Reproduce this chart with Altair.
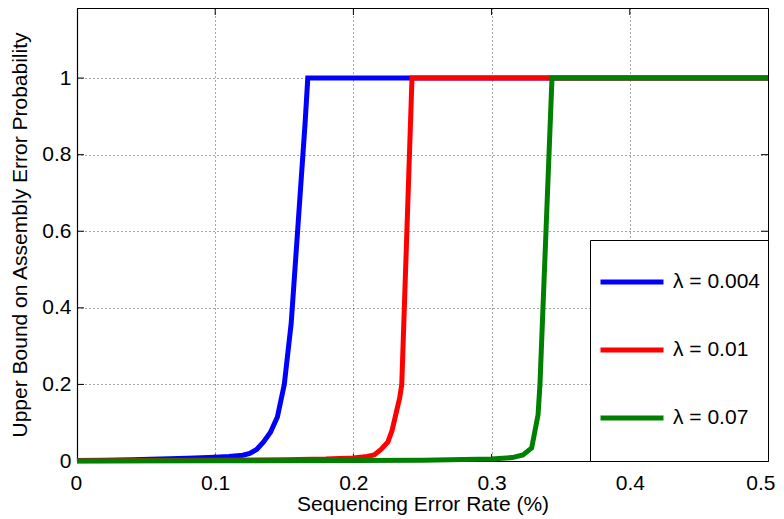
import altair as alt
import pandas as pd

FONT = "Liberation Sans"

series_names = ["λ = 0.004", "λ = 0.01", "λ = 0.07"]
series_colors = ["#0000FF", "#FF0000", "#008000"]

blue_x = [0, 0.02, 0.04, 0.06, 0.08, 0.10, 0.11, 0.12, 0.125, 0.13, 0.135, 0.14, 0.145, 0.15, 0.155, 0.16, 0.165, 0.167, 0.2, 0.3, 0.4, 0.5]
blue_y = [0.001, 0.002, 0.003, 0.005, 0.007, 0.010, 0.012, 0.015, 0.02, 0.03, 0.05, 0.075, 0.115, 0.2, 0.36, 0.62, 0.88, 1.0, 1.0, 1.0, 1.0, 1.0]

red_x = [0, 0.05, 0.10, 0.15, 0.18, 0.20, 0.21, 0.215, 0.22, 0.225, 0.228, 0.2335, 0.235, 0.2424, 0.3, 0.4, 0.5]
red_y = [0.0005, 0.001, 0.002, 0.003, 0.005, 0.008, 0.012, 0.016, 0.03, 0.05, 0.08, 0.165, 0.2, 1.0, 1.0, 1.0, 1.0]

green_x = [0, 0.1, 0.2, 0.25, 0.3, 0.315, 0.3227, 0.329, 0.3336, 0.335, 0.3437, 0.4, 0.5]
green_y = [0.0, 0.0005, 0.001, 0.002, 0.005, 0.009, 0.016, 0.034, 0.12, 0.2, 1.0, 1.0, 1.0]

x_ticks = [0, 0.1, 0.2, 0.3, 0.4, 0.5]
y_ticks = [0, 0.2, 0.4, 0.6, 0.8, 1.0]

W, H = 691, 453
TICK = 7

rows = []
for name, xs, ys in zip(series_names, [blue_x, red_x, green_x], [blue_y, red_y, green_y]):
    for i, (xv, yv) in enumerate(zip(xs, ys)):
        rows.append({"series": name, "x": xv, "y": yv, "order": i})
df = pd.DataFrame(rows)

x_scale = alt.Scale(domain=[0, 0.5], nice=False, zero=False)
y_scale = alt.Scale(domain=[0, 1.183], nice=False)

lines = alt.Chart(df).mark_line(strokeWidth=5, strokeJoin="miter").encode(
    x=alt.X("x:Q", scale=x_scale,
            axis=alt.Axis(values=x_ticks, format="~g", title="Sequencing Error Rate (%)",
                          labelPadding=11, titlePadding=0,
                          labelFlush=True, labelFlushOffset=7)),
    y=alt.Y("y:Q", scale=y_scale,
            axis=alt.Axis(values=y_ticks, format="~g",
                          title="Upper Bound on Assembly Error Probability",
                          labelPadding=6, titlePadding=11, labelFlush=False)),
    color=alt.Color("series:N",
                    scale=alt.Scale(domain=series_names, range=series_colors),
                    legend=alt.Legend(title=" ", titleOrient="bottom", orient="bottom-right")),
    order="order:Q",
)

# inward tick marks on all four sides (MATLAB style box)
xtick_df = pd.DataFrame({"t": x_ticks[1:-1]})
ytick_df = pd.DataFrame({"t": y_ticks[1:]})
xt_bottom = alt.Chart(xtick_df).mark_rule(color="black", strokeWidth=1).encode(
    x=alt.X("t:Q", scale=x_scale), y=alt.value(H), y2=alt.value(H - TICK))
xt_top = alt.Chart(xtick_df).mark_rule(color="black", strokeWidth=1).encode(
    x=alt.X("t:Q", scale=x_scale), y=alt.value(0), y2=alt.value(TICK))
yt_left = alt.Chart(ytick_df).mark_rule(color="black", strokeWidth=1).encode(
    y=alt.Y("t:Q", scale=y_scale), x=alt.value(0), x2=alt.value(TICK))
yt_right = alt.Chart(ytick_df).mark_rule(color="black", strokeWidth=1).encode(
    y=alt.Y("t:Q", scale=y_scale), x=alt.value(W - TICK), x2=alt.value(W))

chart = alt.layer(xt_bottom, xt_top, yt_left, yt_right, lines).properties(
    width=W, height=H,
    autosize=alt.AutoSizeParams(type="none"),
    padding={"left": 69, "top": 0, "right": 8, "bottom": 58},
).configure_view(
    stroke="black", strokeWidth=1
).configure_axis(
    labelFont=FONT, titleFont=FONT, labelFontSize=21, titleFontSize=21,
    labelColor="black", titleColor="black", titleFontWeight="normal",
    domainColor="black", domainWidth=1.2,
    ticks=False,
    grid=True, gridColor="black", gridDash=[1, 3], gridOpacity=0.7, gridWidth=1,
).configure_legend(
    offset=0, padding=8, fillColor="white", strokeColor="black", strokeWidth=1,
    cornerRadius=0,
    symbolType="stroke", symbolStrokeWidth=5, symbolSize=3969,
    labelFont=FONT, labelFontSize=21, labelColor="black", labelOffset=7,
    rowPadding=24, labelLimit=300,
    titleFont=FONT, titleFontSize=14, titlePadding=11,
)

chart.save("out.html", embed_options={"renderer": "svg", "actions": False})
